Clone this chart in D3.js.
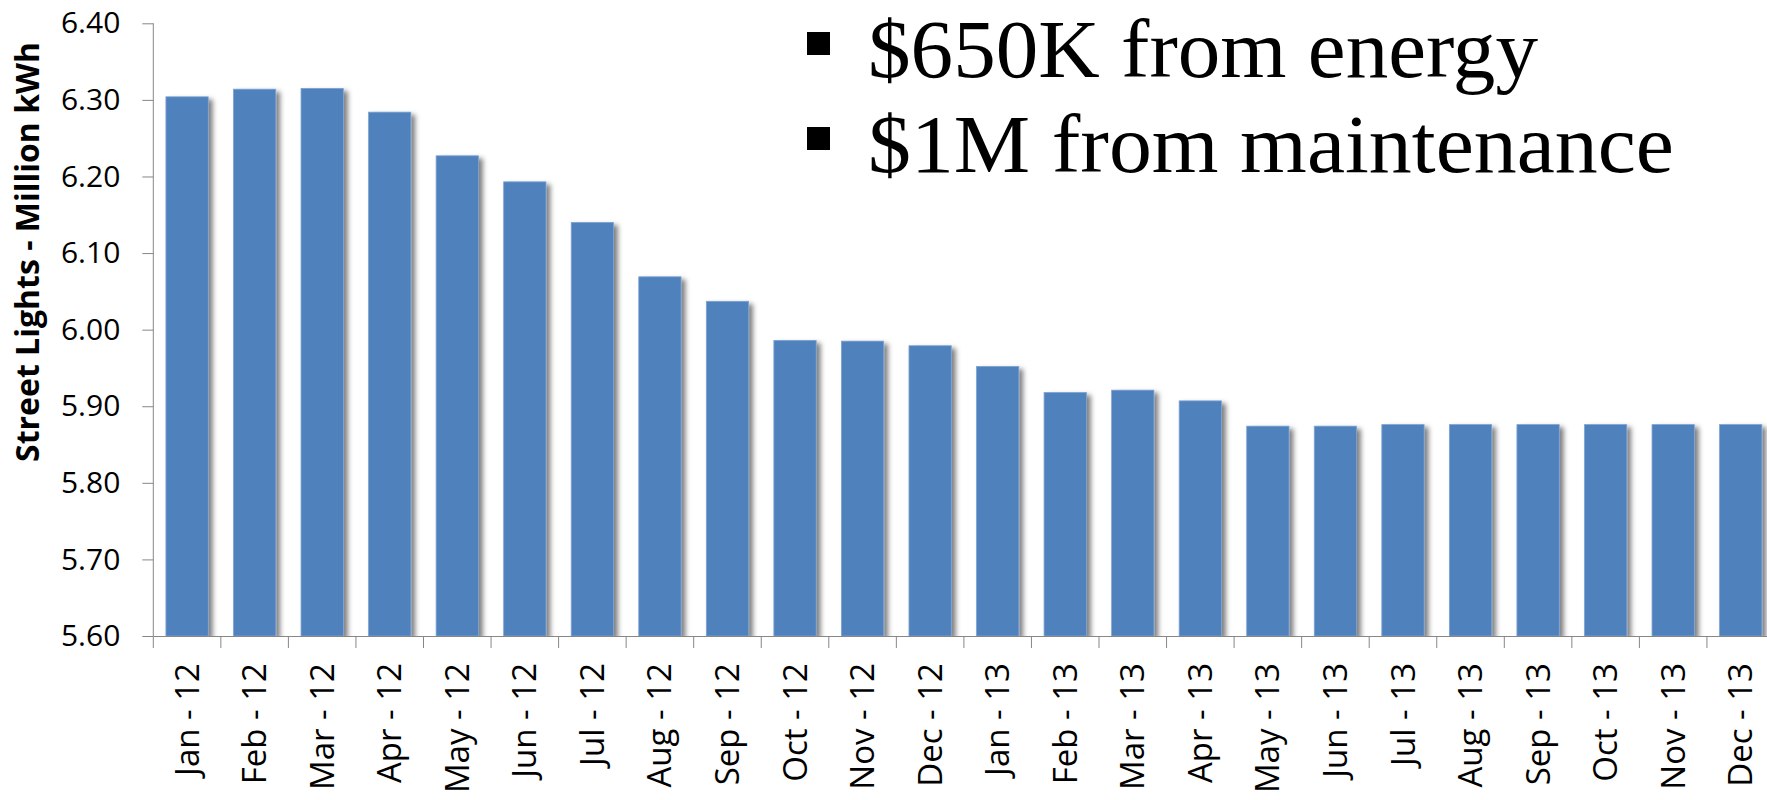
<!DOCTYPE html>
<html>
<head>
<meta charset="utf-8">
<script src="https://cdn.jsdelivr.net/npm/d3@7"></script>
<style>
  body { margin: 0; background: #fff; overflow: hidden; }
  svg { display: block; }
  .axis path, .axis line { stroke: #878787; }
  .axis text { font-family: "Open Sans", sans-serif; fill: #000; }
</style>
</head>
<body>
<div id="container"></div>
<script>
/* DATA */
const months = ["Jan - 12", "Feb - 12", "Mar - 12", "Apr - 12", "May - 12", "Jun - 12",
  "Jul - 12", "Aug - 12", "Sep - 12", "Oct - 12", "Nov - 12", "Dec - 12",
  "Jan - 13", "Feb - 13", "Mar - 13", "Apr - 13", "May - 13", "Jun - 13",
  "Jul - 13", "Aug - 13", "Sep - 13", "Oct - 13", "Nov - 13", "Dec - 13"]
const kwh = [6.304, 6.314, 6.315, 6.284, 6.227, 6.193,
  6.140, 6.069, 6.037, 5.986, 5.985, 5.979,
  5.952, 5.918, 5.921, 5.907, 5.874, 5.874,
  5.876, 5.876, 5.876, 5.876, 5.876, 5.876]
const yTicks = [5.6, 5.7, 5.8, 5.9, 6.0, 6.1, 6.2, 6.3, 6.4]
const bullets = ["$650K from energy", "$1M from maintenance"]

/* CONSTANTS AND GLOBALS */
const width = 1767,
  height = 800,
  margin = { top: 23.3, bottom: 164, left: 153.3 },
  step = 67.55

const data = months.map((m, i) => ({ month: m, value: kwh[i] }))

// SCALES
const xScale = d3.scaleBand()
  .domain(months)
  .range([margin.left, margin.left + step * months.length])
  .paddingInner(0.374)
  .paddingOuter(0.187)

const yScale = d3.scaleLinear()
  .domain([5.6, 6.4])
  .range([height - margin.bottom, margin.top])

// CREATE SVG ELEMENT
const svg = d3.select("#container")
  .append("svg")
  .attr("width", width)
  .attr("height", height)

const defs = svg.append("defs")
const shadow = defs.append("filter")
  .attr("id", "shadow")
  .attr("x", "-10%").attr("y", "-10%")
  .attr("width", "140%").attr("height", "130%")
shadow.append("feDropShadow")
  .attr("dx", 4).attr("dy", 3)
  .attr("stdDeviation", 2.5)
  .attr("flood-color", "#000")
  .attr("flood-opacity", 0.5)

defs.append("clipPath").attr("id", "plotClip")
  .append("rect")
  .attr("x", margin.left).attr("y", 0)
  .attr("width", width).attr("height", height - margin.bottom)

// BARS
svg.append("g")
  .attr("clip-path", "url(#plotClip)")
  .selectAll("rect")
  .data(data)
  .join("rect")
  .attr("x", d => xScale(d.month))
  .attr("y", d => yScale(d.value))
  .attr("width", xScale.bandwidth())
  .attr("height", d => yScale(5.6) - yScale(d.value))
  .attr("fill", "#4f81bd")
  .attr("stroke", "#7ea3d3")
  .attr("stroke-width", 0.8)
  .attr("filter", "url(#shadow)")

// AXES
const yAxis = d3.axisLeft(yScale)
  .tickValues(yTicks)
  .tickFormat(d3.format(".2f"))
  .tickSize(11)
  .tickPadding(22)
const yAxisGroup = svg.append("g")
  .attr("class", "axis")
  .attr("transform", `translate(${margin.left}, 0)`)
  .call(yAxis)
yAxisGroup.select(".domain").attr("d", `M0,${margin.top}V${height - margin.bottom}`)
yAxisGroup.selectAll("text").style("font-size", "30px")

const xAxis = d3.axisBottom(xScale).tickSize(0)
const xAxisGroup = svg.append("g")
  .attr("class", "axis")
  .attr("transform", `translate(0, ${height - margin.bottom})`)
  .call(xAxis)
xAxisGroup.selectAll("text")
  .attr("transform", "rotate(-90)")
  .attr("x", -27)
  .attr("y", 0)
  .attr("dy", "0.35em")
  .attr("text-anchor", "end")
  .style("font-size", "33px")

// category boundary ticks
const edges = months.map(m => xScale(m) - xScale.step() * xScale.paddingInner() / 2)
xAxisGroup.selectAll(".edge")
  .data(edges)
  .join("line")
  .attr("class", "edge")
  .attr("x1", d => d).attr("x2", d => d)
  .attr("y1", 0).attr("y2", 12)

// Y AXIS LABEL
svg.append("text")
  .attr("transform", "translate(39, 252) rotate(-90)")
  .attr("text-anchor", "middle")
  .style("font-family", "'Open Sans', sans-serif")
  .style("font-weight", "bold")
  .style("font-size", "32px")
  .text("Street Lights - Million kWh")

// BULLET TEXT
const bulletY = [77, 172]
const bulletLen = [670, 806]
bullets.forEach((b, i) => {
  svg.append("rect")
    .attr("x", 807).attr("y", bulletY[i] - 45)
    .attr("width", 23).attr("height", 23)
    .attr("fill", "#000")
  svg.append("text")
    .attr("x", 868).attr("y", bulletY[i])
    .attr("textLength", bulletLen[i])
    .attr("lengthAdjust", "spacingAndGlyphs")
    .style("font-family", "'Liberation Serif', serif")
    .style("font-size", "82px")
    .text(b)
})
</script>
</body>
</html>
